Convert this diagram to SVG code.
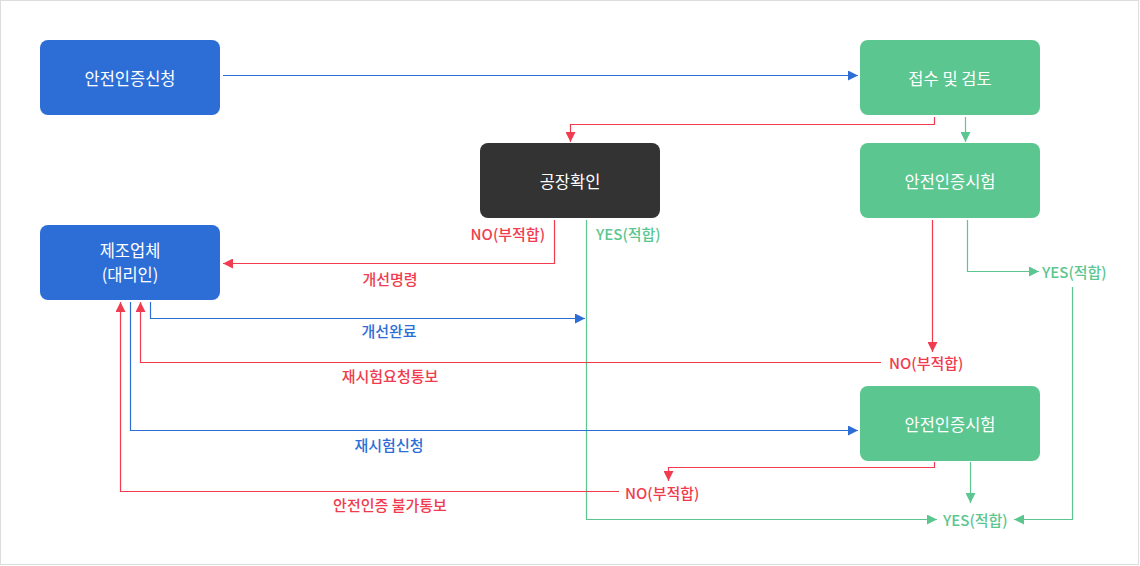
<svg xmlns="http://www.w3.org/2000/svg" width="1140" height="566" viewBox="0 0 1140 566">
<style>
.nb{fill:#2d6ed6}
.ng{fill:#5bc68f}
.nd{fill:#333333}
.nt{font-family:"Noto Sans CJK KR","Noto Sans",sans-serif;font-size:16.5px;fill:#ffffff;text-anchor:middle;dominant-baseline:central}
.lb{font-family:"Noto Sans CJK KR","Noto Sans",sans-serif;font-size:15px;font-weight:500;dominant-baseline:central}
.r{fill:#f03c4e}
.g{fill:#5bc68f}
.b{fill:#2d6ed6}
.c{text-anchor:middle}
.e{text-anchor:end}
.lr{fill:none;stroke:#f03c4e;stroke-width:1.2}
.lg{fill:none;stroke:#5bc68f;stroke-width:1.2}
.lbl{fill:none;stroke:#2d6ed6;stroke-width:1.2}
</style>
<defs>
<marker id="ar" markerUnits="userSpaceOnUse" markerWidth="10" markerHeight="10" refX="10" refY="5" orient="auto"><path d="M0,0 L10,5 L0,10 z" fill="#f03c4e"/></marker>
<marker id="ag" markerUnits="userSpaceOnUse" markerWidth="10" markerHeight="10" refX="10" refY="5" orient="auto"><path d="M0,0 L10,5 L0,10 z" fill="#5bc68f"/></marker>
<marker id="ab" markerUnits="userSpaceOnUse" markerWidth="10" markerHeight="10" refX="10" refY="5" orient="auto"><path d="M0,0 L10,5 L0,10 z" fill="#2d6ed6"/></marker>
</defs>
<rect x="0.5" y="0.5" width="1138" height="564" fill="#ffffff" stroke="#dddddd"/>
<g id="connectors">
<path class="lbl" d="M223,75.5 H858" marker-end="url(#ab)"/>
<path class="lr" d="M934.5,117 V124.5 H570.5 V142" marker-end="url(#ar)"/>
<path class="lg" d="M965.5,117 V142" marker-end="url(#ag)"/>
<path class="lr" d="M554.5,220 V263.5 H223" marker-end="url(#ar)"/>
<path class="lg" d="M586.5,220 V519.5 H937" marker-end="url(#ag)"/>
<path class="lbl" d="M150.5,302 V318.5 H585" marker-end="url(#ab)"/>
<path class="lg" d="M967.5,220 V271.5 H1039" marker-end="url(#ag)"/>
<path class="lg" d="M1072.5,287 V519.5 H1014" marker-end="url(#ag)"/>
<path class="lr" d="M932.5,220 V352" marker-end="url(#ar)"/>
<path class="lr" d="M881,362.5 H140.5 V302" marker-end="url(#ar)"/>
<path class="lbl" d="M130.5,302 V430.5 H858" marker-end="url(#ab)"/>
<path class="lr" d="M934.5,462 V467.5 H668.5 V481" marker-end="url(#ar)"/>
<path class="lr" d="M619,491.5 H120.5 V302" marker-end="url(#ar)"/>
<path class="lg" d="M970.5,462 V503" marker-end="url(#ag)"/>
<text class="lb r e" x="545" y="233">NO(부적합)</text>
<text class="lb g" x="596" y="233">YES(적합)</text>
<text class="lb r c" x="390" y="278">개선명령</text>
<text class="lb b c" x="389" y="330">개선완료</text>
<text class="lb r" x="889" y="362">NO(부적합)</text>
<text class="lb r c" x="390" y="375">재시험요청통보</text>
<text class="lb g" x="1042" y="271">YES(적합)</text>
<text class="lb b c" x="389" y="444">재시험신청</text>
<text class="lb r" x="625" y="492">NO(부적합)</text>
<text class="lb r c" x="390" y="504">안전인증 불가통보</text>
<text class="lb g" x="943" y="519">YES(적합)</text>
</g>
<g id="n-apply"><rect class="nb" x="40" y="40" width="180" height="75" rx="8"/><text class="nt" x="130" y="77.5">안전인증신청</text></g>
<g id="n-review"><rect class="ng" x="860" y="40" width="180" height="75" rx="8"/><text class="nt" x="950" y="77.5">접수 및 검토</text></g>
<g id="n-factory"><rect class="nd" x="480" y="143" width="180" height="75" rx="8"/><text class="nt" x="570" y="180.5">공장확인</text></g>
<g id="n-test1"><rect class="ng" x="860" y="143" width="180" height="75" rx="8"/><text class="nt" x="950" y="180.5">안전인증시험</text></g>
<g id="n-maker"><rect class="nb" x="40" y="225" width="180" height="75" rx="8"/><text class="nt" x="130" y="250"><tspan x="130" y="250">제조업체</tspan><tspan x="130" y="274">(대리인)</tspan></text></g>
<g id="n-test2"><rect class="ng" x="860" y="386" width="180" height="75" rx="8"/><text class="nt" x="950" y="423.5">안전인증시험</text></g>
</svg>
